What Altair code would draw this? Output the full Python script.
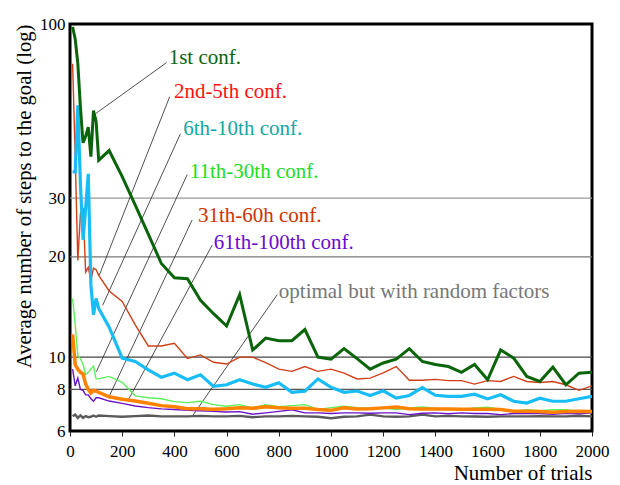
import altair as alt
import pandas as pd

FONT = "Liberation Serif"

trials = [10, 20, 30, 40, 50, 60, 70, 80, 90, 100, 110,
          150, 200, 250, 300, 350, 400, 450, 500, 550, 600,
          650, 700, 750, 800, 850, 900, 950, 1000, 1050, 1100,
          1150, 1200, 1250, 1300, 1350, 1400, 1450, 1500, 1550, 1600,
          1650, 1700, 1750, 1800, 1850, 1900, 1950, 2000]

conf_1st = [98, 90, 76, 56, 44, 46, 49, 40, 55, 51, 39,
            41.7, 34.8, 28.6, 23.4, 19.1, 17.3, 17.2, 14.8, 13.5, 12.4,
            15.4, 10.5, 11.4, 11.2, 11.2, 12.1, 10.0, 9.86, 10.6, 9.9,
            9.2, 9.6, 9.86, 10.6, 9.7, 9.5, 9.37, 9.0, 9.5, 8.55,
            10.5, 9.93, 8.75, 8.45, 9.33, 8.26, 8.95, 9.0]

conf_2_5 = [76, 40, 19.5, 27, 28, 18, 18.6, 17, 18.5, 18.3, 17.6,
            15.8, 14.7, 12.5, 10.8, 10.8, 11.0, 9.9, 10.15, 9.65, 9.53,
            10.0, 10.0, 9.62, 9.2, 9.06, 9.37, 9.06, 9.2, 8.95, 8.6,
            8.65, 8.97, 9.37, 8.52, 8.52, 8.57, 8.5, 8.5, 8.3, 8.5,
            8.45, 8.75, 8.45, 8.39, 8.45, 8.26, 7.95, 8.2]

conf_6_10 = [36, 36, 57, 33, 22.5, 28, 35.5, 16.5, 13.4, 15.0, 14.0,
             12.3, 9.93, 9.7, 9.16, 8.7, 8.95, 8.55, 8.85, 8.17, 8.26,
             8.55, 8.3, 8.12, 8.38, 7.84, 7.9, 8.6, 8.12, 7.84, 7.91,
             7.67, 7.92, 7.53, 7.67, 8.1, 7.68, 7.62, 7.62, 7.74, 7.49,
             7.71, 7.37, 7.28, 7.53, 7.37, 7.37, 7.5, 7.62]

conf_11_30 = [15, 12.5, 10.1, 9.9, 9.5, 8.85, 9.0, 9.2, 9.4, 8.6, 8.6,
              8.75, 8.4, 7.65, 7.55, 7.5, 7.35, 7.3, 7.37, 7.2, 7.12,
              7.2, 7.04, 7.2, 7.1, 7.15, 7.2, 6.97, 7.05, 7.12, 7.05,
              7.04, 7.04, 6.96, 7.04, 7.08, 7.03, 6.96, 6.96, 7.04, 7.07,
              6.98, 6.87, 6.95, 6.9, 6.95, 6.95, 6.87, 6.9]

conf_31_60 = [11.7, 9.5, 9.2, 9.0, 8.9, 8.3, 8.0, 7.8, 7.95, 7.9, 7.84,
              7.6, 7.47, 7.38, 7.27, 7.15, 7.1, 7.0, 7.0, 6.97, 7.0,
              7.05, 7.02, 7.1, 7.05, 7.02, 7.02, 6.96, 6.92, 7.04, 6.99,
              7.0, 7.04, 7.08, 7.0, 6.98, 6.98, 6.98, 6.97, 6.97, 6.97,
              6.96, 6.88, 6.88, 6.87, 6.83, 6.87, 6.88, 6.87]

conf_61_100 = [9.2, 8.2, 8.65, 8.0, 7.95, 7.7, 7.7, 7.5, 7.37, 7.55, 7.55,
               7.38, 7.26, 7.13, 7.05, 6.99, 6.96, 6.92, 6.9, 6.87, 6.84,
               6.86, 6.74, 6.8, 6.87, 6.95, 6.8, 6.8, 6.77, 6.8, 6.8,
               6.78, 6.8, 6.8, 6.72, 6.78, 6.8, 6.76, 6.8, 6.77, 6.77,
               6.72, 6.77, 6.77, 6.77, 6.74, 6.78, 6.76, 6.8]

optimal = [6.64, 6.72, 6.57, 6.68, 6.57, 6.65, 6.6, 6.62, 6.68, 6.62, 6.68,
           6.65, 6.62, 6.65, 6.68, 6.64, 6.64, 6.64, 6.66, 6.64, 6.64,
           6.66, 6.6, 6.64, 6.64, 6.66, 6.64, 6.62, 6.55, 6.62, 6.64,
           6.72, 6.64, 6.62, 6.64, 6.72, 6.64, 6.66, 6.64, 6.63, 6.62,
           6.64, 6.64, 6.64, 6.65, 6.64, 6.64, 6.67, 6.64]

series_names = ["optimal", "61th-100th", "11th-30th", "31th-60h", "2nd-5th", "6th-10th", "1st"]
series_values = [optimal, conf_61_100, conf_11_30, conf_31_60, conf_2_5, conf_6_10, conf_1st]
series_colors = ["#5a5a5a", "#6a14c8", "#5cf05c", "#ff8300", "#d04018", "#19bdf5", "#0a640a"]
series_widths = [2.4, 1.4, 1.4, 3.5, 1.4, 3.2, 3.0]

# annotation labels
label_texts = ["1st conf.", "2nd-5th conf.", "6th-10th conf.", "11th-30th conf.",
               "31th-60h conf.", "61th-100th conf.", "optimal but with random factors"]
label_colors = ["#0a640a", "#ff1010", "#13a6a6", "#22dd22", "#cc3300", "#6a0ad0", "#777777"]
label_t = [378, 398, 434, 459, 490, 551, 800]
label_v = [75.8, 60.1, 46.3, 34.6, 25.4, 21.1, 15.05]
lead_t1 = [370, 382, 423, 449, 468, 545, 794]
lead_v1 = [76.6, 60.5, 46.8, 35.3, 25.8, 21.7, 15.4]
lead_t2 = [98, 112, 125, 101, 150, 224, 468]
lead_v2 = [53.8, 17.6, 14.3, 9.04, 7.62, 7.45, 6.64]

grid_vals = [30, 20, 10, 8]
grid_colors = ["#9a9a9a", "#777777", "#444444", "#555555"]

x_ticks = [0, 200, 400, 600, 800, 1000, 1200, 1400, 1600, 1800, 2000]
y_ticks = [6, 8, 10, 20, 30, 100]

rows = []
for name, vals in zip(series_names, series_values):
    for t, v in zip(trials, vals):
        rows.append({"trial": t, "value": v, "series": name})
df = pd.DataFrame(rows)

labels_df = pd.DataFrame({"trial": label_t, "value": label_v, "text": label_texts, "color": label_colors})
leads_df = pd.DataFrame({"trial": lead_t1, "value": lead_v1, "t2": lead_t2, "v2": lead_v2})
grid_df = pd.DataFrame({"value": grid_vals, "color": grid_colors})

xscale = alt.Scale(domain=[0, 2000], nice=False)
yscale = alt.Scale(type="log", domain=[6, 100], nice=False)

x_axis = alt.Axis(values=x_ticks, format="d", tickSize=5, tickColor="#222", tickWidth=1,
                  labelFont=FONT, labelFontSize=17, labelColor="black", labelPadding=7,
                  labelFlush=False, grid=False, domain=False,
                  title="Number of trials", titleAnchor="end", titleFont=FONT,
                  titleFontSize=21, titleFontWeight="normal", titleColor="black", titlePadding=3)
y_axis = alt.Axis(values=y_ticks, ticks=False, domain=False, grid=False,
                  labelFont=FONT, labelFontSize=17, labelColor="black", labelPadding=5,
                  labelOverlap=False,
                  title="Average number of steps  to the goal (log)", titleAnchor="end",
                  titleFont=FONT, titleFontSize=20.7, titleFontWeight="normal",
                  titleColor="black", titlePadding=5)


def X(field="trial"):
    return alt.X(f"{field}:Q", scale=xscale, axis=x_axis)


def Y(field="value"):
    return alt.Y(f"{field}:Q", scale=yscale, axis=y_axis)


grid = alt.Chart(grid_df).mark_rule(strokeWidth=1.2).encode(
    y=Y(),
    color=alt.Color("color:N", scale=None),
)

leads = alt.Chart(leads_df).mark_rule(strokeWidth=0.8, color="#222222").encode(
    x=X(), y=Y(), x2="t2:Q", y2="v2:Q",
)

layers = [grid, leads]
for name, col, w in zip(series_names, series_colors, series_widths):
    layers.append(
        alt.Chart(df).transform_filter(alt.datum.series == name)
        .mark_line(color=col, strokeWidth=w, strokeJoin="miter", clip=True)
        .encode(x=X(), y=Y(), order="trial:Q")
    )

labels = alt.Chart(labels_df).mark_text(
    align="left", baseline="alphabetic", font=FONT, fontSize=21
).encode(
    x=X(), y=Y(),
    text="text:N",
    color=alt.Color("color:N", scale=None),
)
layers.append(labels)

chart = alt.layer(*layers).properties(
    width=522, height=407,
    autosize=alt.AutoSizeParams(type="none"),
    padding={"left": 62, "top": 16, "right": 20, "bottom": 52},
    background="white",
).configure_view(stroke="black", strokeWidth=3)

chart.save("out.html", embed_options={"renderer": "svg", "actions": False})
